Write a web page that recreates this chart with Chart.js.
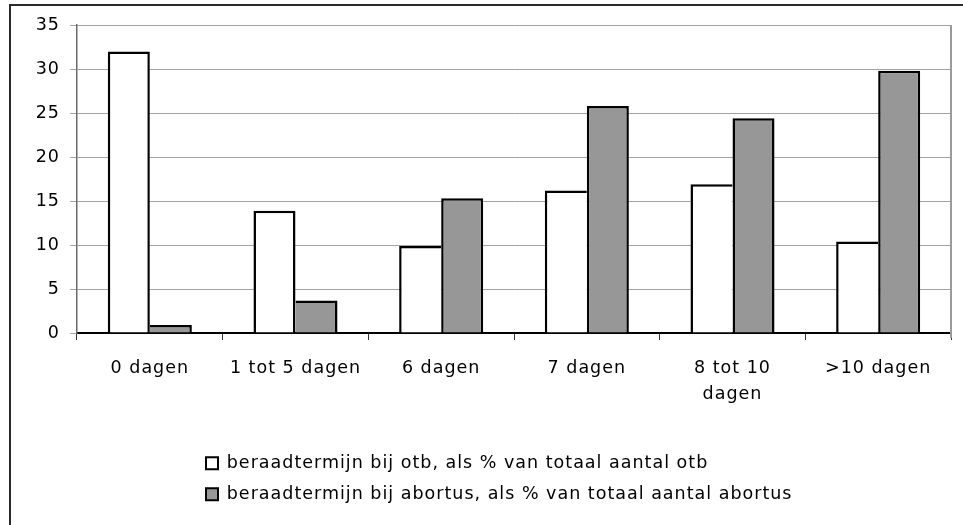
<!DOCTYPE html>
<html>
<head>
<meta charset="utf-8">
<script src="https://cdn.jsdelivr.net/npm/chart.js@4/dist/chart.umd.min.js"></script>
<style>
  html, body { margin: 0; padding: 0; background: #ffffff; }
  #wrap { position: relative; width: 963px; height: 525px; }
</style>
</head>
<body>
<div id="wrap"><canvas id="chart" width="963" height="525"></canvas></div>
<script>
// Beraadtermijn: verdeling van het aantal dagen bedenktijd
const categories = ['0 dagen', '1 tot 5 dagen', '6 dagen', '7 dagen', ['8 tot 10', 'dagen'], '>10 dagen'];
const otbValues = [32.0, 13.9, 9.9, 16.2, 16.9, 10.4];
const abortusValues = [0.9, 3.7, 15.3, 25.8, 24.4, 29.8];
const seriesLabels = [
  'beraadtermijn bij otb, als % van totaal aantal otb',
  'beraadtermijn bij abortus, als % van totaal aantal abortus'
];
const yTicks = [0, 5, 10, 15, 20, 25, 30, 35];

const FONT = "'DejaVu Sans', sans-serif";
const FONT_SIZE = 17.5;
const LETTER_SPACING = '1px';
const LEGEND_LEFT = 206;
const EDGE = 2.5;

// Slightly wide letter spacing for every text the chart measures and draws
const spacingPlugin = {
  id: 'spacing',
  beforeUpdate(chart) { chart.ctx.letterSpacing = LETTER_SPACING; },
  beforeLayout(chart) { chart.ctx.letterSpacing = LETTER_SPACING; },
  beforeDraw(chart) { chart.ctx.letterSpacing = LETTER_SPACING; }
};

// Legend block starts at a fixed left offset, rows left-aligned
const legendPlacement = {
  id: 'legendPlacement',
  afterLayout(chart) {
    const lg = chart.legend;
    if (!lg) return;
    const dx = LEGEND_LEFT - (lg.left + lg.options.labels.padding);
    lg.left += dx;
    lg.right += dx;
  }
};

// Outer frame (top and left edge) and the grey plot-area border on the right
const framePlugin = {
  id: 'frame',
  beforeDraw(chart) {
    const ctx = chart.ctx;
    ctx.save();
    ctx.strokeStyle = '#2a2a2a';
    ctx.lineWidth = 2;
    ctx.beginPath();
    ctx.moveTo(10, chart.height);
    ctx.lineTo(10, 5);
    ctx.lineTo(chart.width, 5);
    ctx.stroke();
    ctx.restore();
  },
  beforeDatasetsDraw(chart) {
    const {ctx, chartArea} = chart;
    ctx.save();
    ctx.strokeStyle = '#9a9a9a';
    ctx.lineWidth = 2;
    ctx.beginPath();
    ctx.moveTo(chartArea.right, chartArea.top);
    ctx.lineTo(chartArea.right, chartArea.bottom + 5);
    ctx.stroke();
    ctx.restore();
  }
};

// The edge shared by the two bars of a category is drawn once, by the taller bar
function otbBorder(ctx) {
  const i = ctx.dataIndex;
  const shared = otbValues[i] >= abortusValues[i] ? EDGE : 0;
  return {top: EDGE, left: EDGE, right: shared, bottom: 0};
}
function abortusBorder(ctx) {
  const i = ctx.dataIndex;
  const shared = abortusValues[i] > otbValues[i] ? EDGE : 0;
  return {top: EDGE, left: shared, right: EDGE, bottom: 0};
}

new Chart(document.getElementById('chart'), {
  type: 'bar',
  data: {
    labels: categories,
    datasets: [
      {
        label: seriesLabels[0],
        data: otbValues,
        backgroundColor: '#ffffff',
        borderColor: '#000000',
        borderWidth: otbBorder,
        borderSkipped: false,
        categoryPercentage: 0.577,
        barPercentage: 1.0
      },
      {
        label: seriesLabels[1],
        data: abortusValues,
        backgroundColor: '#979797',
        borderColor: '#000000',
        borderWidth: abortusBorder,
        borderSkipped: false,
        categoryPercentage: 0.577,
        barPercentage: 1.0
      }
    ]
  },
  options: {
    responsive: false,
    animation: false,
    devicePixelRatio: 1,
    layout: { padding: { left: 10, top: 25, right: 12, bottom: 12 } },
    plugins: {
      tooltip: { enabled: false },
      title: { display: false },
      legend: {
        position: 'bottom',
        align: 'start',
        labels: {
          boxWidth: 12,
          boxHeight: 12,
          padding: 13.5,
          color: '#000000',
          font: { family: FONT, size: FONT_SIZE },
          generateLabels(chart) {
            return chart.data.datasets.map((ds, i) => ({
              text: ds.label,
              fillStyle: ds.backgroundColor,
              strokeStyle: '#000000',
              lineWidth: 2,
              hidden: false,
              datasetIndex: i
            }));
          }
        }
      }
    },
    scales: {
      x: {
        grid: {
          display: true,
          drawOnChartArea: false,
          offset: true,
          tickLength: 7,
          color: '#333333',
          lineWidth: 1
        },
        border: { display: true, color: '#000000', width: 2 },
        ticks: {
          color: '#000000',
          padding: 15,
          maxRotation: 0,
          autoSkip: false,
          font: { family: FONT, size: FONT_SIZE, lineHeight: 1.52 }
        },
        afterFit(scale) { scale.height = 108; }
      },
      y: {
        min: 0,
        max: 35,
        afterBuildTicks(scale) { scale.ticks = yTicks.map(v => ({ value: v })); },
        grid: {
          color: '#a3a3a3',
          lineWidth: 1,
          tickLength: 7
        },
        border: { display: true, color: '#6a6a6a', width: 1.5 },
        ticks: {
          color: '#000000',
          padding: 10,
          font: { family: FONT, size: FONT_SIZE }
        },
        afterFit(scale) { scale.width = 67; }
      }
    }
  },
  plugins: [spacingPlugin, legendPlacement, framePlugin]
});
</script>
</body>
</html>
